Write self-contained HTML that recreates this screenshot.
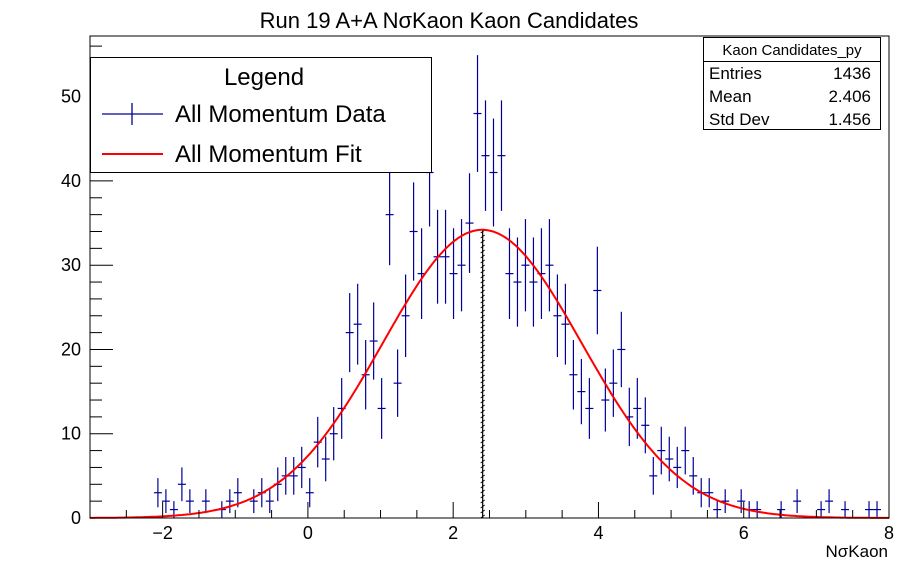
<!DOCTYPE html>
<html><head><meta charset="utf-8"><style>
body{margin:0;background:#fff;}
svg{display:block;font-family:"Liberation Sans",sans-serif;}
</style></head><body>
<svg id="chart" width="898" height="576" xmlns="http://www.w3.org/2000/svg">
<rect width="898" height="576" fill="#fff"/>
<text x="449" y="28" text-anchor="middle" font-size="22">Run 19 A+A NσKaon Kaon Candidates</text>
<g id="plot"></g>
<rect x="90" y="36" width="799" height="482" fill="none" stroke="#000" stroke-width="1"/>
<g id="axes"></g>
<text x="888" y="557" text-anchor="end" font-size="17">NσKaon</text>
<g>
<rect x="90.5" y="57.5" width="341" height="115" fill="#fff" stroke="#000"/>
<text x="264" y="85" text-anchor="middle" font-size="24">Legend</text>
<g>
<line x1="102" y1="114" x2="163" y2="114" stroke="#000099" stroke-width="1.3"/>
<line x1="132" y1="103" x2="132" y2="125" stroke="#000099" stroke-width="1.3"/>
<text x="175" y="122" font-size="24">All Momentum Data</text></g>
<g>
<line x1="102" y1="154" x2="163" y2="154" stroke="#ff0000" stroke-width="2"/>
<text x="175" y="162" font-size="24">All Momentum Fit</text></g>
</g>
<g>
<rect x="703.5" y="37.5" width="177" height="92" fill="#fff" stroke="#000"/>
<line x1="703.5" y1="61.5" x2="880.5" y2="61.5" stroke="#000"/>
<text x="792" y="55" text-anchor="middle" font-size="15">Kaon Candidates_py</text>
<text x="709" y="79" font-size="17">Entries</text><text x="871" y="79" text-anchor="end" font-size="17">1436</text>
<text x="709" y="102" font-size="17">Mean</text><text x="871" y="102" text-anchor="end" font-size="17">2.406</text>
<text x="709" y="125" font-size="17">Std Dev</text><text x="871" y="125" text-anchor="end" font-size="17">1.456</text>
</g>
</svg>
<script>
const counts=[0,0,0,0,0,0,0,0,3,2,1,4,2,0,2,0,1,2,3,0,2,3,2,4,5,5,6,3,9,7,10,13,22,23,17,21,13,36,16,24,34,29,41,31,31,29,30,35,48,43,41,43,29,28,30,28,29,30,24,23,17,15,13,27,14,16,20,12,13,11,5,8,7,6,8,5,3,3,1,2,0,2,1,1,0,0,1,0,2,0,0,1,2,0,1,0,0,1,1,0];
const xRange=[-3,8];
const yRange=[0,57.2];
const fitParams=[34.2,2.4,1.37];
const statMean=[2.406];
const xTicks=[-2,0,2,4,6,8];
const yTicks=[0,10,20,30,40,50];
const NS="http://www.w3.org/2000/svg";
const X0=90,X1=889,Y0=518,Y1=36;
function sx(v){return X0+(v-xRange[0])/(xRange[1]-xRange[0])*(X1-X0);}
function sy(v){return Y0-(v-yRange[0])/(yRange[1]-yRange[0])*(Y0-Y1);}
function mk(t,a,p){const e=document.createElementNS(NS,t);for(const k in a)e.setAttribute(k,a[k]);p.appendChild(e);return e;}
const plot=document.getElementById('plot'),axes=document.getElementById('axes');
const bw=(xRange[1]-xRange[0])/counts.length;
const mx=sx(statMean[0]);
const ml=mk('line',{x1:mx,y1:Y0,x2:mx,y2:sy(fitParams[0]),stroke:'#000',"stroke-width":1.2},plot);


for(let y=Y0;y>sy(fitParams[0]);y-=5){mk('line',{x1:mx-2,y1:y,x2:mx+2,y2:y-3,stroke:'#000',"stroke-width":0.8},plot);}
counts.forEach((c,i)=>{
 if(c<=0)return;
 const g=mk('g',{},plot);
 
 
 const lo=xRange[0]+i*bw, cx=lo+bw/2, err=Math.sqrt(c);
 mk('line',{x1:sx(lo),y1:sy(c),x2:sx(lo+bw),y2:sy(c),stroke:'#000099',"stroke-width":1.2},g);
 mk('line',{x1:sx(cx),y1:sy(Math.max(c-err,0)),x2:sx(cx),y2:sy(c+err),stroke:'#000099',"stroke-width":1.2},g);
});
let d='';
for(let k=0;k<=400;k++){const x=xRange[0]+(xRange[1]-xRange[0])*k/400;const v=fitParams[0]*Math.exp(-0.5*Math.pow((x-fitParams[1])/fitParams[2],2));d+=(k?'L':'M')+sx(x).toFixed(1)+','+sy(v).toFixed(1);}
const fp=mk('path',{d:d,fill:'none',stroke:'#ff0000',"stroke-width":2},plot);


for(let v=-3;v<=8.001;v+=0.5){const major=Math.abs(v-Math.round(v/2)*2)<1e-6;mk('line',{x1:sx(v),y1:Y0,x2:sx(v),y2:Y0-(major?16:8),stroke:'#000'},axes);}
xTicks.forEach(v=>{const t=mk('text',{x:sx(v),y:Y0+21,"text-anchor":"middle","font-size":18},axes);t.textContent=(v<0?'\u2212'+(-v):v);

});
for(let v=0;v<=yRange[1];v+=2){const major=v%10===0;mk('line',{x1:X0,y1:sy(v),x2:X0+(major?23:12),y2:sy(v),stroke:'#000'},axes);}
yTicks.forEach(v=>{const t=mk('text',{x:X0-9,y:sy(v)+6,"text-anchor":"end","font-size":18},axes);t.textContent=v;

});
</script>
</body></html>
